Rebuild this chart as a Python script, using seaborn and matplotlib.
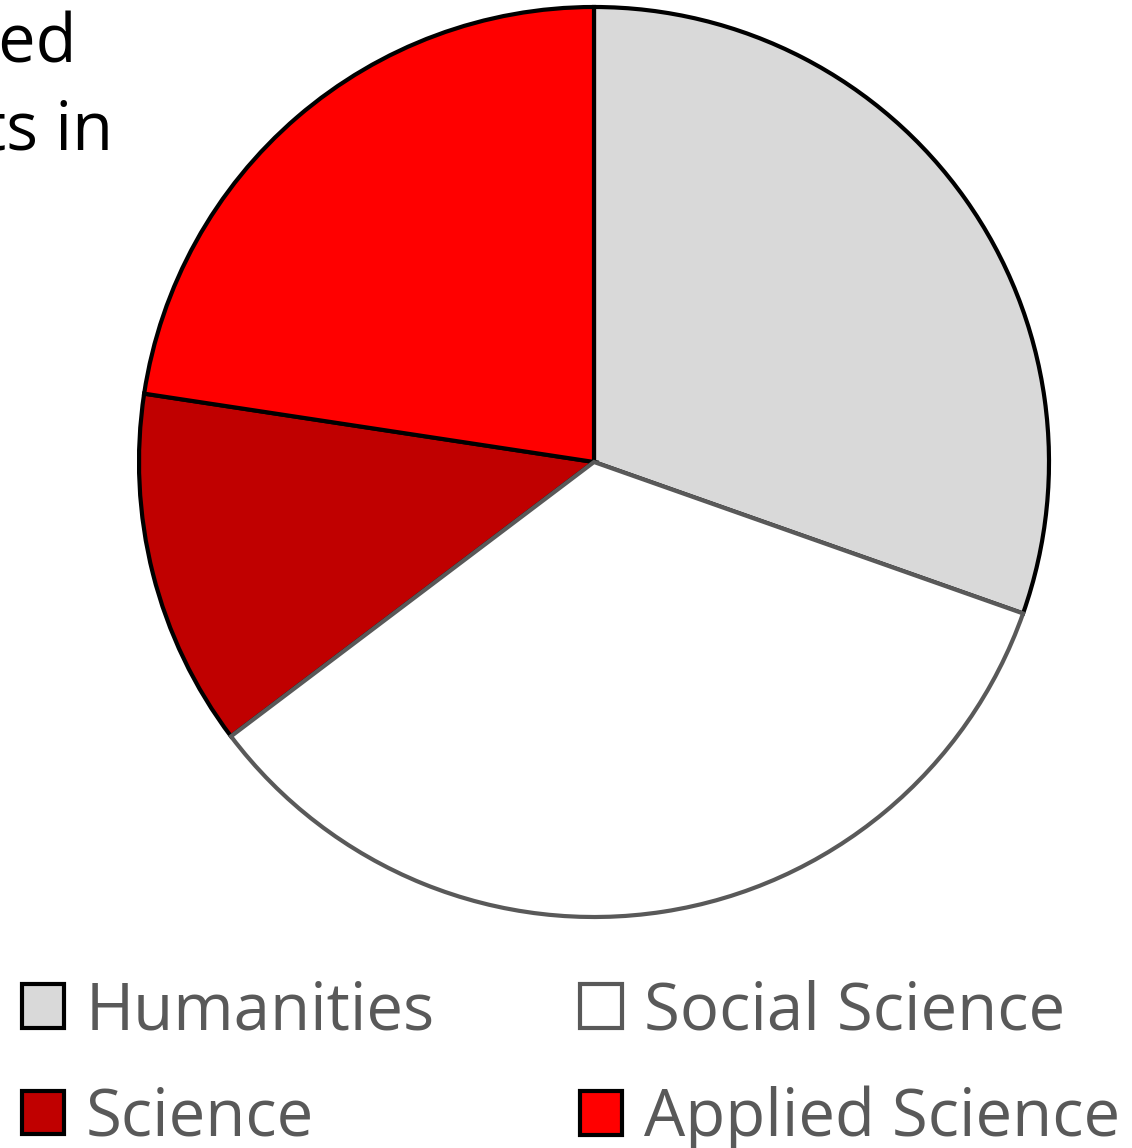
import matplotlib
matplotlib.use("Agg")
import matplotlib.pyplot as plt
import seaborn as sns

# shares (percent)
disciplines = ["Humanities", "Social Science", "Science", "Applied Science"]
shares = [30.4, 34.3, 12.7, 22.6]
fill_colors = ["#d9d9d9", "#ffffff", "#c00000", "#ff0000"]
edge_colors = ["#000000", "#595959", "#000000", "#000000"]
title_lines = ["Disciplines of projects that used", "research outputs in"]

sns.set_theme(style="white")
plt.rcParams["font.family"] = ["Open Sans", "DejaVu Sans"]

W, H = 1132, 1148
fig = plt.figure(figsize=(W / 100, H / 100), dpi=100)

# pie centre (594, 462) px, radius ~455 px
cx, cy, r = 594, 462, 455
ax = fig.add_axes([(cx - r) / W, (H - cy - r) / H, 2 * r / W, 2 * r / H])

wedges, _ = ax.pie(shares, colors=fill_colors, startangle=90, counterclock=False,
                   wedgeprops={"linewidth": 3})
for w, ec in zip(wedges, edge_colors):
    w.set_edgecolor(ec)
    w.set_clip_on(False)
# draw the grey-edged slice on top so its border shows
wedges[1].set_zorder(3)
ax.set_xlim(-1, 1)
ax.set_ylim(-1, 1)
ax.set_aspect("equal")
ax.axis("off")

# title is cut off at the left edge in the reference
fig.text(77 / W, 1 - 62 / H, title_lines[0], ha="right", va="baseline",
         fontsize=48, color="black")
fig.text(113 / W, 1 - 150 / H, title_lines[1], ha="right", va="baseline",
         fontsize=48, color="black")

# legend filled row by row: Humanities, Social Science / Science, Applied Science
order = [0, 2, 1, 3]
leg = fig.legend([wedges[i] for i in order], [disciplines[i] for i in order],
                 loc="upper left", bbox_to_anchor=(22 / W, 1 - 979 / H), ncol=2,
                 frameon=False, fontsize=47, handlelength=0.65, handleheight=0.65,
                 handletextpad=0.33, columnspacing=2.22, labelspacing=0.62,
                 borderaxespad=0, borderpad=0)
for t in leg.get_texts():
    t.set_color("#595959")

fig.savefig("out.png", dpi=100)
